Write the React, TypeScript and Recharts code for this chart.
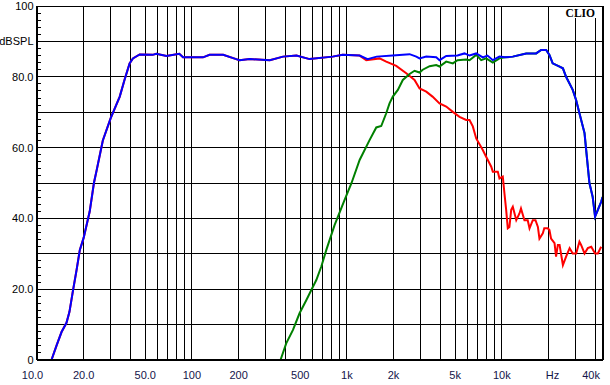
import React from 'react';
import { LineChart, Line, XAxis, YAxis, CartesianGrid } from 'recharts';

type Pt = { f: number; db: number };

// Shared low-frequency section (total and woofer overlap here)
const lowBand: Pt[] = [
  { f: 12.4, db: 0 }, { f: 13.4, db: 4.2 }, { f: 14.4, db: 7.9 }, { f: 15.5, db: 10.5 },
  { f: 16.2, db: 13.6 }, { f: 17.1, db: 19.8 }, { f: 18.0, db: 25.4 }, { f: 18.9, db: 31.1 },
  { f: 20, db: 34.5 }, { f: 21.9, db: 42 }, { f: 23.3, db: 50 }, { f: 24.3, db: 53.7 },
  { f: 26.6, db: 62 }, { f: 29.9, db: 68.3 }, { f: 34.2, db: 74.4 }, { f: 36.7, db: 79.1 },
  { f: 39.6, db: 83.8 }, { f: 41.6, db: 85.2 }, { f: 46, db: 86.3 }, { f: 55.8, db: 86.2 },
  { f: 58.9, db: 86.5 }, { f: 68.5, db: 85.9 }, { f: 82.9, db: 86.5 }, { f: 87.6, db: 85.5 },
  { f: 118, db: 85.5 }, { f: 130, db: 86.2 }, { f: 159, db: 86.2 }, { f: 193, db: 85.0 },
  { f: 203, db: 84.7 }, { f: 236, db: 85.0 }, { f: 318, db: 84.7 }, { f: 387, db: 85.7 },
  { f: 473, db: 86.0 }, { f: 574, db: 85.0 }, { f: 809, db: 85.7 }, { f: 939, db: 86.2 },
  { f: 1209, db: 86.0 },
];

const blueMid: Pt[] = [
  { f: 1361, db: 85.0 }, { f: 1556, db: 85.7 }, { f: 1973, db: 86.0 }, { f: 2541, db: 86.4 },
  { f: 2806, db: 85.7 }, { f: 2946, db: 85.2 }, { f: 3254, db: 85.7 }, { f: 3774, db: 85.5 },
  { f: 3963, db: 84.7 }, { f: 4378, db: 85.9 }, { f: 5176, db: 86.0 }, { f: 5741, db: 86.6 },
  { f: 6189, db: 86.0 }, { f: 6836, db: 86.6 }, { f: 7540, db: 85.5 }, { f: 8086, db: 86.0 },
  { f: 8750, db: 84.7 }, { f: 9661, db: 85.7 },
];

// Shared high-frequency section (total and tweeter overlap here)
const highBand: Pt[] = [
  { f: 10500, db: 85.5 }, { f: 11780, db: 85.7 }, { f: 14370, db: 86.6 }, { f: 16660, db: 86.6 },
  { f: 17950, db: 87.6 }, { f: 19330, db: 87.6 }, { f: 20300, db: 86.2 }, { f: 21300, db: 83.8 },
  { f: 23600, db: 82.9 }, { f: 24800, db: 82.4 }, { f: 26000, db: 80 }, { f: 28700, db: 76.3 },
  { f: 30200, db: 73.4 }, { f: 31700, db: 69.7 }, { f: 34200, db: 64.1 }, { f: 35050, db: 59.3 },
  { f: 36800, db: 49.9 }, { f: 38600, db: 46.1 }, { f: 40000, db: 40.5 }, { f: 41700, db: 42.4 },
  { f: 43800, db: 44.7 }, { f: 44700, db: 46 },
];

const redHigh: Pt[] = [
  { f: 1334, db: 84.7 }, { f: 1625, db: 85.2 }, { f: 1795, db: 84.3 }, { f: 2083, db: 83.1 },
  { f: 2418, db: 81.0 }, { f: 2734, db: 79.1 }, { f: 2946, db: 76.7 }, { f: 3254, db: 75.8 },
  { f: 3571, db: 74.4 }, { f: 3963, db: 72.5 }, { f: 4378, db: 71.6 }, { f: 4830, db: 70.1 },
  { f: 5336, db: 68.7 }, { f: 5890, db: 67.8 }, { f: 6189, db: 67.8 }, { f: 6501, db: 66.0 },
  { f: 6836, db: 62.6 }, { f: 7540, db: 59.3 }, { f: 7925, db: 57.4 }, { f: 8548, db: 54.6 },
  { f: 8750, db: 53.2 }, { f: 9424, db: 53.2 }, { f: 9661, db: 51.3 }, { f: 10150, db: 51.8 },
  { f: 10400, db: 47.1 }, { f: 10670, db: 42.4 }, { f: 10930, db: 37.2 }, { f: 11200, db: 37.6 },
  { f: 11500, db: 42.4 }, { f: 11780, db: 43.3 }, { f: 12400, db: 39.5 }, { f: 13000, db: 41.4 },
  { f: 13300, db: 42.8 }, { f: 14000, db: 39.5 }, { f: 14700, db: 39.5 }, { f: 15100, db: 37.2 },
  { f: 15850, db: 39.5 }, { f: 16500, db: 39.5 }, { f: 17100, db: 37.6 }, { f: 17500, db: 34.3 },
  { f: 18400, db: 35.8 }, { f: 18800, db: 37.2 }, { f: 19800, db: 37.2 }, { f: 20300, db: 36.7 },
  { f: 20800, db: 34.3 }, { f: 21900, db: 33.0 }, { f: 22400, db: 29.2 }, { f: 23000, db: 32.5 },
  { f: 23600, db: 32.5 }, { f: 24800, db: 26.8 }, { f: 26000, db: 29.2 }, { f: 27400, db: 31.6 },
  { f: 28700, db: 30.1 }, { f: 30200, db: 30.1 }, { f: 31700, db: 33.4 }, { f: 32500, db: 32.5 },
  { f: 34200, db: 30.1 }, { f: 35900, db: 31.6 }, { f: 37800, db: 32.0 }, { f: 40000, db: 30.1 },
  { f: 41700, db: 30.1 }, { f: 43800, db: 32.0 },
];

const greenRise: Pt[] = [
  { f: 373, db: 0 }, { f: 406, db: 4.7 }, { f: 449, db: 8.5 }, { f: 495, db: 13.2 },
  { f: 547, db: 16.9 }, { f: 604, db: 20.7 }, { f: 635, db: 22.6 }, { f: 684, db: 26.4 },
  { f: 737, db: 31.1 }, { f: 833, db: 38.1 }, { f: 967, db: 45.2 }, { f: 1072, db: 50 },
  { f: 1209, db: 56.5 }, { f: 1401, db: 62.1 }, { f: 1548, db: 65.7 }, { f: 1667, db: 66.1 },
  { f: 1795, db: 69.7 }, { f: 1885, db: 72.5 }, { f: 1980, db: 74.4 }, { f: 2134, db: 76.3 },
  { f: 2297, db: 79.1 }, { f: 2541, db: 80.8 }, { f: 2734, db: 81.7 }, { f: 2946, db: 81.2 },
  { f: 3087, db: 82.0 }, { f: 3420, db: 83.0 }, { f: 3774, db: 83.3 }, { f: 3963, db: 82.9 },
  { f: 4378, db: 84.3 }, { f: 4830, db: 83.8 }, { f: 5176, db: 84.7 }, { f: 5890, db: 84.9 },
  { f: 6189, db: 84.7 }, { f: 6836, db: 86.2 }, { f: 7363, db: 84.7 }, { f: 7925, db: 85.2 },
  { f: 8750, db: 84.0 }, { f: 9661, db: 85.2 },
];

const totalResponse: Pt[] = [...lowBand, ...blueMid, ...highBand];
const wooferResponse: Pt[] = [...lowBand, ...redHigh];
const tweeterResponse: Pt[] = [...greenRise, ...highBand];

const gridFreqs = [
  10, 20, 30, 40, 50, 60, 70, 80, 90, 100, 200, 300, 400, 500, 600, 700, 800, 900,
  1000, 2000, 3000, 4000, 5000, 6000, 7000, 8000, 9000, 10000, 20000, 30000, 40000,
];
const xLabels: Record<number, string> = {
  10: '10.0', 20: '20.0', 50: '50.0', 100: '100', 200: '200', 500: '500',
  1000: '1k', 2000: '2k', 5000: '5k', 10000: '10k', 20000: 'Hz', 40000: '40k',
};
const majorDb = [0, 10, 20, 30, 40, 50, 60, 70, 80, 90, 100];
const minorDb = [
  0, 2, 4, 6, 8, 10, 12, 14, 16, 18, 20, 22, 24, 26, 28, 30, 32, 34, 36, 38, 40, 42, 44, 46, 48, 50,
  52, 54, 56, 58, 60, 62, 64, 66, 68, 70, 72, 74, 76, 78, 80, 82, 84, 86, 88, 90, 92, 94, 96, 98, 100,
];
const yLabels: Record<number, string> = {
  0: '0', 20: '20.0', 40: '40.0', 60: '60.0', 80: '80.0', 90: 'dBSPL', 100: '100',
};

const FONT = '"Liberation Sans", Arial, sans-serif';

const xLabelShift: Record<number, number> = { 10: -4.5, 20000: 4, 40000: -4 };

const XTick = (props: any) => {
  const { x, y, payload } = props;
  const label = xLabels[payload.value];
  if (!label) return <g />;
  return (
    <text x={x + (xLabelShift[payload.value] || 0)} y={y + 18.5} textAnchor="middle"
      fontSize={11} fontFamily={FONT} fill="#14144a">{label}</text>
  );
};

const LeftTick = (props: any) => {
  const { x, y, payload } = props;
  const label = yLabels[payload.value];
  return (
    <g>
      <line x1={x} x2={x + 4} y1={y} y2={y} stroke="#000" strokeWidth={1} shapeRendering="crispEdges" />
      {label ? (
        <text x={x - 3.5} y={y + 4} textAnchor="end" fontSize={11} fontFamily={FONT} fill="#000">{label}</text>
      ) : null}
    </g>
  );
};

const RightTick = (props: any) => {
  const { x, y } = props;
  return <line x1={x - 4} x2={x} y1={y} y2={y} stroke="#000" strokeWidth={1} shapeRendering="crispEdges" />;
};

export default function App() {
  return (
    <div style={{ position: 'absolute', left: 0, top: 0, width: 610, height: 385, background: '#fff' }}>
      <LineChart width={610} height={385} data={totalResponse}
        margin={{ top: 6, right: 0, bottom: 0, left: 0 }}>
        <CartesianGrid stroke="#000" strokeWidth={1} shapeRendering="crispEdges"
          horizontalValues={majorDb} verticalValues={gridFreqs} />
        <XAxis dataKey="f" type="number" scale="log" domain={[10, 45000]} allowDataOverflow
          ticks={gridFreqs} interval={0} height={25} tickSize={0} tickMargin={0} tickLine={false}
          axisLine={{ stroke: '#000', strokeWidth: 2 }} tick={<XTick />} />
        <XAxis xAxisId="top" orientation="top" dataKey="f" type="number" scale="log"
          domain={[10, 45000]} allowDataOverflow height={0} tick={false} tickLine={false}
          axisLine={{ stroke: '#000', strokeWidth: 2 }} />
        <YAxis type="number" domain={[0, 100]} ticks={minorDb} interval={0} width={37}
          tickSize={0} tickMargin={0} tickLine={false}
          axisLine={{ stroke: '#000', strokeWidth: 2 }} tick={<LeftTick />} />
        <YAxis yAxisId="right" orientation="right" type="number" domain={[0, 100]} ticks={minorDb}
          interval={0} width={7} tickSize={0} tickMargin={0} tickLine={false}
          axisLine={{ stroke: '#000', strokeWidth: 2 }} tick={<RightTick />} />
        <Line data={wooferResponse} dataKey="db" type="linear" stroke="#ff0000" strokeWidth={2}
          dot={false} activeDot={false} isAnimationActive={false} />
        <Line data={tweeterResponse} dataKey="db" type="linear" stroke="#008000" strokeWidth={2}
          dot={false} activeDot={false} isAnimationActive={false} />
        <Line data={totalResponse} dataKey="db" type="linear" stroke="#0000ff" strokeWidth={2}
          dot={false} activeDot={false} isAnimationActive={false} />
      </LineChart>
      <svg width={610} height={385} style={{ position: 'absolute', left: 0, top: 0, pointerEvents: 'none' }}>
        <rect x={566} y={7} width={31} height={11} fill="#fff" />
        <text x={595} y={17} textAnchor="end" fontSize={11.5} fontWeight="bold"
          fontFamily='"Liberation Serif", "Times New Roman", serif' fill="#000">CLIO</text>
      </svg>
    </div>
  );
}
